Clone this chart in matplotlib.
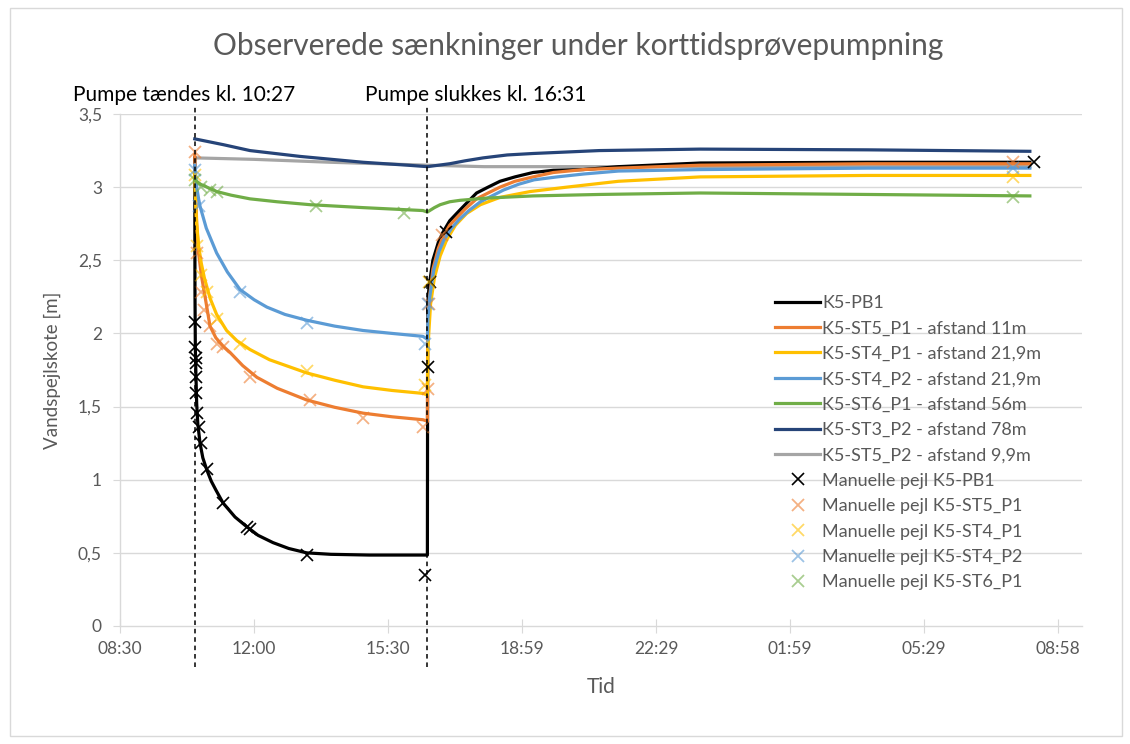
import matplotlib
matplotlib.use("Agg")
import matplotlib.pyplot as plt
from matplotlib.patches import Rectangle

plt.rcParams['font.family'] = ['Lato', 'DejaVu Sans']

# ---------------- data (time in hours since midnight of day 1) ----------------
tick_hours = [8.5 + k * 209.714 / 60 for k in range(8)]
tick_labels = ["08:30", "12:00", "15:30", "18:59", "22:29", "01:59", "05:29", "08:58"]
y_ticks = [0, 0.5, 1, 1.5, 2, 2.5, 3, 3.5]
y_labels = ["0", "0,5", "1", "1,5", "2", "2,5", "3", "3,5"]

pump_on = 10.45   # 10:27
pump_off = 16.517 # 16:31

pb1_t = [10.45, 10.455, 10.465, 10.48, 10.50, 10.53, 10.587, 10.66, 10.76, 10.88, 11.0, 11.19,
         11.5, 11.8, 12.1, 12.49, 12.9, 13.37, 14.0, 15.0, 16.517,
         16.525, 16.56, 16.66, 16.8, 16.92, 17.1, 17.28, 17.5, 17.8, 18.1, 18.41, 18.8,
         19.27, 19.8, 20.58, 21.5, 23.63, 28.0, 32.23]
pb1_v = [3.20, 2.30, 1.90, 1.72, 1.52, 1.38, 1.25, 1.15, 1.07, 0.99, 0.93, 0.84,
         0.745, 0.68, 0.62, 0.57, 0.53, 0.50, 0.49, 0.485, 0.485,
         2.20, 2.32, 2.50, 2.62, 2.69, 2.77, 2.82, 2.88, 2.96, 3.00, 3.04, 3.07,
         3.10, 3.115, 3.12, 3.14, 3.165, 3.17, 3.17]

st5p1_t = [10.45, 10.47, 10.50, 10.55, 10.62, 10.70, 10.847, 11.0, 11.2, 11.37, 11.7, 12.07,
           12.6, 13.37, 14.1, 14.84, 15.6, 16.4, 16.517,
           16.525, 16.56, 16.66, 16.8, 16.92, 17.1, 17.28, 17.5, 17.8, 18.1, 18.41, 18.8,
           19.27, 19.8, 20.58, 21.5, 23.63, 28.0, 32.23]
st5p1_v = [3.22, 3.00, 2.75, 2.55, 2.40, 2.28, 2.05, 1.97, 1.91, 1.87, 1.78, 1.70,
           1.625, 1.545, 1.495, 1.455, 1.43, 1.41, 1.40,
           2.05, 2.22, 2.44, 2.58, 2.66, 2.74, 2.79, 2.85, 2.92, 2.96, 3.00, 3.04,
           3.07, 3.10, 3.12, 3.13, 3.15, 3.16, 3.16]

st4p1_t = [10.45, 10.47, 10.50, 10.55, 10.62, 10.70, 10.85, 11.02, 11.28, 11.55, 11.89, 12.4,
           13.37, 14.1, 14.84, 15.6, 16.4, 16.517,
           16.53, 16.6, 16.7, 16.85, 17.02, 17.25, 17.54, 17.9, 18.41, 19.2, 20.15, 21.5,
           23.63, 28.0, 32.23]
st4p1_v = [3.10, 2.90, 2.75, 2.60, 2.48, 2.38, 2.24, 2.13, 2.02, 1.95, 1.89, 1.82,
           1.73, 1.68, 1.635, 1.61, 1.59, 1.58,
           1.90, 2.20, 2.38, 2.53, 2.64, 2.74, 2.82, 2.88, 2.93, 2.97, 3.00, 3.04,
           3.07, 3.08, 3.08]

st4p2_t = [10.45, 10.50, 10.55, 10.587, 10.75, 11.02, 11.3, 11.63, 12.0, 12.33, 12.8, 13.37,
           14.1, 14.84, 15.6, 16.4, 16.517,
           16.53, 16.58, 16.68, 16.82, 16.95, 17.15, 17.35, 17.6, 17.9, 18.2, 18.5, 18.9,
           19.3, 19.9, 20.6, 21.5, 23.63, 28.0, 32.23]
st4p2_v = [3.15, 3.00, 2.92, 2.87, 2.72, 2.55, 2.42, 2.30, 2.23, 2.18, 2.13, 2.09,
           2.05, 2.02, 2.00, 1.98, 1.96,
           2.10, 2.25, 2.43, 2.56, 2.64, 2.72, 2.78, 2.84, 2.90, 2.94, 2.98, 3.02,
           3.05, 3.07, 3.09, 3.11, 3.12, 3.13, 3.13]

st6p1_t = [10.45, 10.60, 10.85, 11.02, 11.4, 11.89, 12.6, 13.46, 14.84, 16.4, 16.517,
           16.7, 16.85, 17.1, 17.37, 18.06, 19.27, 21.0, 23.63, 28.0, 32.23]
st6p1_v = [3.05, 3.02, 2.99, 2.97, 2.945, 2.92, 2.90, 2.88, 2.86, 2.84, 2.83,
           2.86, 2.88, 2.90, 2.91, 2.925, 2.94, 2.95, 2.96, 2.95, 2.94]

st3p2_t = [10.45, 11.2, 11.89, 13.2, 14.84, 16.0, 16.517, 17.1, 17.5, 17.97, 18.6, 19.27,
           21.0, 23.63, 28.0, 32.23]
st3p2_v = [3.33, 3.29, 3.25, 3.21, 3.17, 3.15, 3.14, 3.16, 3.18, 3.20, 3.22, 3.23,
           3.25, 3.26, 3.255, 3.245]

st5p2_t = [10.45, 12.0, 14.0, 16.517, 18.0, 20.0, 24.0, 32.23]
st5p2_v = [3.20, 3.19, 3.17, 3.15, 3.14, 3.14, 3.14, 3.14]

m_pb1_t = [10.45, 10.45, 10.48, 10.48, 10.48, 10.48, 10.52, 10.55, 10.60, 10.76, 11.19,
           11.80, 11.89, 13.37, 16.45, 16.52, 16.58, 17.0, 32.34]
m_pb1_v = [2.08, 1.91, 1.83, 1.80, 1.70, 1.59, 1.455, 1.36, 1.25, 1.07, 0.84,
           0.68, 0.66, 0.485, 0.35, 1.77, 2.35, 2.69, 3.17]

m_st5p1_t = [10.45, 10.50, 10.60, 10.68, 10.85, 11.02, 11.19, 11.89, 13.46, 14.84, 16.40,
             16.52, 16.55, 16.9, 31.79]
m_st5p1_v = [3.24, 2.55, 2.28, 2.16, 2.05, 1.93, 1.91, 1.70, 1.545, 1.42, 1.36,
             1.62, 2.20, 2.67, 3.17]

m_st4p1_t = [10.45, 10.50, 10.60, 10.76, 11.02, 11.63, 13.37, 16.45, 16.55, 31.79]
m_st4p1_v = [3.08, 2.60, 2.40, 2.28, 2.10, 1.93, 1.74, 1.65, 2.35, 3.07]

m_st4p2_t = [10.45, 10.55, 11.63, 13.37, 16.45, 16.52, 31.79]
m_st4p2_v = [3.12, 2.87, 2.28, 2.07, 1.93, 2.20, 3.13]

m_st6p1_t = [10.45, 10.60, 10.85, 11.02, 13.60, 15.90, 31.79]
m_st6p1_v = [3.05, 3.00, 2.98, 2.97, 2.87, 2.82, 2.935]

# ---------------- figure ----------------
W, H = 1130, 744
fig = plt.figure(figsize=(W / 100, H / 100), dpi=100)
fig.patches.append(Rectangle((10 / W, 8 / H), 1112 / W, 728 / H, transform=fig.transFigure,
                             fill=False, edgecolor="#D9D9D9", linewidth=1))
ax = fig.add_axes([120 / W, 1 - 626 / H, (1082 - 120) / W, (626 - 114) / H])

grid_c = "#D9D9D9"
text_c = "#595959"

for yv in y_ticks[1:]:
    ax.axhline(yv, color=grid_c, lw=1, zorder=0)

lw = 2.3
ax.plot(pb1_t, pb1_v, color="black", lw=lw, label="K5-PB1", zorder=3)
ax.plot(st5p1_t, st5p1_v, color="#ED7D31", lw=lw, label="K5-ST5_P1 - afstand 11m", zorder=3)
ax.plot(st4p1_t, st4p1_v, color="#FFC000", lw=lw, label="K5-ST4_P1 - afstand 21,9m", zorder=3)
ax.plot(st4p2_t, st4p2_v, color="#5B9BD5", lw=lw, label="K5-ST4_P2 - afstand 21,9m", zorder=3)
ax.plot(st6p1_t, st6p1_v, color="#70AD47", lw=lw, label="K5-ST6_P1 - afstand 56m", zorder=3)
ax.plot(st3p2_t, st3p2_v, color="#264478", lw=lw, label="K5-ST3_P2 - afstand 78m", zorder=3)
ax.plot(st5p2_t, st5p2_v, color="#A5A5A5", lw=lw, label="K5-ST5_P2 - afstand 9,9m", zorder=2)

ms, mew = 9, 1.3
ax.plot(m_pb1_t, m_pb1_v, ls="none", marker="x", ms=8, mew=1.2, color="black",
        label="Manuelle pejl K5-PB1", zorder=4)
ax.plot(m_st5p1_t, m_st5p1_v, ls="none", marker="x", ms=ms, mew=mew, color="#ED7D31", alpha=0.6,
        label="Manuelle pejl K5-ST5_P1", zorder=4)
ax.plot(m_st4p1_t, m_st4p1_v, ls="none", marker="x", ms=ms, mew=mew, color="#FFC000", alpha=0.6,
        label="Manuelle pejl K5-ST4_P1", zorder=4)
ax.plot(m_st4p2_t, m_st4p2_v, ls="none", marker="x", ms=ms, mew=mew, color="#5B9BD5", alpha=0.6,
        label="Manuelle pejl K5-ST4_P2", zorder=4)
ax.plot(m_st6p1_t, m_st6p1_v, ls="none", marker="x", ms=ms, mew=mew, color="#70AD47", alpha=0.6,
        label="Manuelle pejl K5-ST6_P1", zorder=4)

for tv in (pump_on, pump_off):
    ax.plot([tv, tv], [-0.28, 3.55], color="black", lw=1.1, ls=(0, (3, 2.5)), clip_on=False, zorder=5)

ax.set_xlim(8.5, 33.59)
ax.set_ylim(0, 3.5)
ax.set_xticks(tick_hours)
ax.set_xticklabels(tick_labels)
ax.set_yticks(y_ticks)
ax.set_yticklabels(y_labels)

for s in ("top", "right"):
    ax.spines[s].set_visible(False)
for s in ("left", "bottom"):
    ax.spines[s].set_color(grid_c)
    ax.spines[s].set_linewidth(1)
ax.tick_params(axis="x", direction="inout", length=10, color=grid_c, labelsize=12.5,
               labelcolor=text_c, pad=6)
ax.tick_params(axis="y", direction="out", length=5, color=grid_c, labelsize=12.5,
               labelcolor=text_c, pad=8)

ax.set_xlabel("Tid", fontsize=15, color=text_c, labelpad=14)
ax.set_ylabel("Vandspejlskote [m]", fontsize=13.5, color=text_c, labelpad=12)

fig.text(578 / W, 1 - 46 / H, "Observerede sænkninger under korttidsprøvepumpning",
         ha="center", va="center", fontsize=21.5, color=text_c)
fig.text(73 / W, 1 - 95 / H, "Pumpe tændes kl. 10:27", ha="left", va="center",
         fontsize=15, color="black")
fig.text(365 / W, 1 - 95 / H, "Pumpe slukkes kl. 16:31", ha="left", va="center",
         fontsize=15, color="black")

leg = ax.legend(loc="upper left", bbox_to_anchor=(766 / W, 1 - 286 / H),
                bbox_transform=fig.transFigure, frameon=False, fontsize=13,
                handlelength=2.5, handletextpad=0.1, labelspacing=0.52, borderpad=0)
for t in leg.get_texts():
    t.set_color(text_c)

fig.savefig("out.png", dpi=100)
